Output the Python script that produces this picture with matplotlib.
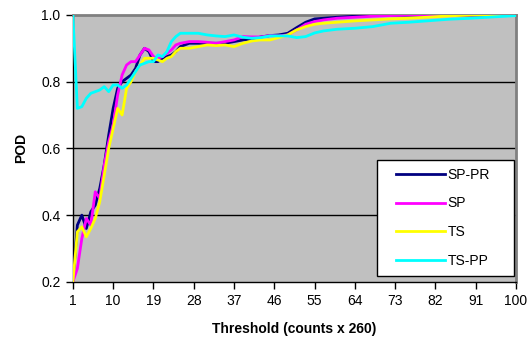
"""POD vs threshold for four detection methods."""

import matplotlib
matplotlib.use("Agg")
import matplotlib.pyplot as plt
from matplotlib.lines import Line2D
from matplotlib.legend_handler import HandlerLine2D

plt.rcParams["font.family"] = ["Liberation Sans", "DejaVu Sans"]

# threshold values (counts x 260)
thresholds = [1, 2, 3, 4, 5, 6, 7, 8, 9, 10, 11, 12, 13, 14, 15, 16, 17, 18, 19, 20,
              21, 22, 23, 24, 25, 27, 29, 31, 33, 35, 37, 39, 41, 43, 45, 47, 49, 51,
              53, 55, 57, 60, 64, 68, 72, 76, 80, 85, 90, 95, 100]

pod_sp_pr = [0.20, 0.37, 0.40, 0.36, 0.41, 0.43, 0.48, 0.55, 0.64, 0.72, 0.78, 0.80,
             0.81, 0.82, 0.84, 0.88, 0.90, 0.89, 0.86, 0.86, 0.87, 0.875, 0.88, 0.89,
             0.905, 0.915, 0.915, 0.915, 0.915, 0.915, 0.92, 0.925, 0.928, 0.934,
             0.938, 0.94, 0.945, 0.962, 0.978, 0.988, 0.99, 0.993, 0.996, 0.998,
             1.0, 1.0, 1.0, 1.0, 1.0, 1.0, 1.0]

pod_sp = [0.20, 0.24, 0.33, 0.39, 0.37, 0.47, 0.45, 0.55, 0.62, 0.67, 0.76, 0.82,
          0.85, 0.86, 0.86, 0.88, 0.90, 0.895, 0.875, 0.87, 0.875, 0.885, 0.895,
          0.91, 0.915, 0.92, 0.92, 0.918, 0.915, 0.92, 0.925, 0.935, 0.934, 0.934,
          0.938, 0.937, 0.94, 0.955, 0.972, 0.98, 0.985, 0.99, 0.993, 0.996, 0.998,
          1.0, 1.0, 1.0, 1.0, 1.0, 1.0]

pod_ts = [0.20, 0.35, 0.365, 0.335, 0.36, 0.39, 0.44, 0.52, 0.60, 0.66, 0.72, 0.70,
          0.78, 0.80, 0.83, 0.85, 0.87, 0.87, 0.87, 0.865, 0.86, 0.87, 0.875, 0.89,
          0.90, 0.90, 0.905, 0.91, 0.908, 0.91, 0.905, 0.915, 0.922, 0.925, 0.925,
          0.932, 0.94, 0.955, 0.965, 0.972, 0.975, 0.978, 0.982, 0.985, 0.988,
          0.99, 0.993, 0.997, 1.0, 1.0, 1.0]

pod_ts_pp = [1.0, 0.72, 0.725, 0.75, 0.765, 0.77, 0.775, 0.785, 0.77, 0.79, 0.79,
             0.78, 0.79, 0.81, 0.83, 0.85, 0.855, 0.86, 0.86, 0.88, 0.875, 0.89,
             0.92, 0.935, 0.945, 0.945, 0.945, 0.94, 0.937, 0.935, 0.94, 0.933,
             0.93, 0.932, 0.937, 0.937, 0.937, 0.932, 0.935, 0.946, 0.952, 0.957,
             0.96, 0.965, 0.975, 0.978, 0.982, 0.987, 0.99, 0.994, 0.998]

x_ticks = [1, 10, 19, 28, 37, 46, 55, 64, 73, 82, 91, 100]
y_ticks = [0.2, 0.4, 0.6, 0.8, 1.0]

fig = plt.figure(figsize=(5.32, 3.55), dpi=100)
ax = fig.add_axes([0.137, 0.206, 0.833, 0.752])
ax.set_facecolor("#C0C0C0")

# gridlines (Excel style)
for yv in y_ticks[1:-1]:
    ax.axhline(yv, color="black", linewidth=1.0, zorder=1)

ax.plot(thresholds, pod_sp_pr, color="#000080", linewidth=2.0, label="SP-PR", zorder=3)
ax.plot(thresholds, pod_sp, color="#FF00FF", linewidth=2.0, label="SP", zorder=3)
ax.plot(thresholds, pod_ts, color="#FFFF00", linewidth=2.0, label="TS", zorder=3)
ax.plot(thresholds, pod_ts_pp, color="#00FFFF", linewidth=2.0, label="TS-PP", zorder=3)

ax.set_xlim(1, 100)
ax.set_ylim(0.2, 1.0)
ax.set_xticks(x_ticks)
ax.set_xticklabels([str(v) for v in x_ticks], fontsize=10)
ax.set_yticks(y_ticks)
ax.set_yticklabels([f"{v:.1f}" for v in y_ticks], fontsize=10)
ax.tick_params(direction="out", length=5, width=1, color="black", pad=4)

for side in ("top", "right"):
    ax.spines[side].set_color("#808080")
    ax.spines[side].set_linewidth(2.0)
for side in ("left", "bottom"):
    ax.spines[side].set_color("black")
    ax.spines[side].set_linewidth(1.0)

ax.set_xlabel("Threshold (counts x 260)", fontsize=10, fontweight="bold", labelpad=10)
ax.set_ylabel("POD", fontsize=10, fontweight="bold", labelpad=9)

# legend box placed as in the reference, extra width left empty on the right
leg = ax.legend(loc="lower left", bbox_to_anchor=(0.686, 0.022, 0.309, 0.44),
                mode="expand", fontsize=10, frameon=True, fancybox=False,
                framealpha=1.0, handlelength=4.3, handletextpad=0.2,
                labelspacing=1.05, borderpad=0.6, borderaxespad=0.0,
                handler_map={Line2D: HandlerLine2D(xpad=0.8)})
leg.get_frame().set_edgecolor("black")
leg.get_frame().set_linewidth(1.0)
leg.set_zorder(5)

plt.savefig("out.png", dpi=100)
